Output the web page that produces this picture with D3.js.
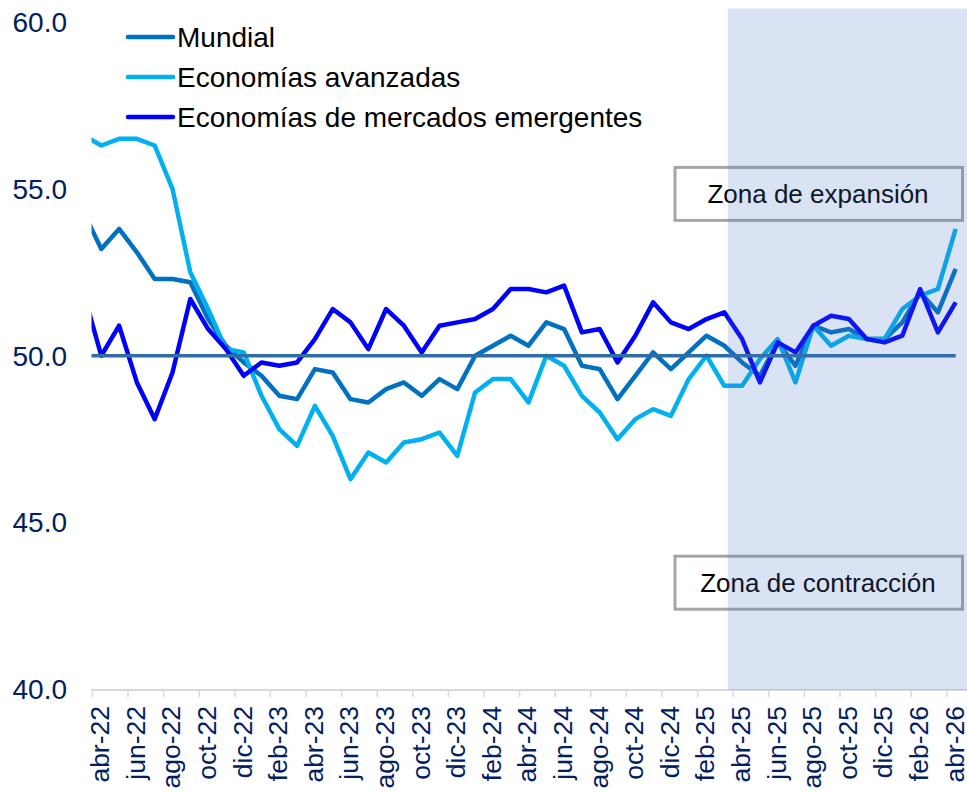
<!DOCTYPE html>
<html><head><meta charset="utf-8">
<script src="https://cdn.jsdelivr.net/npm/d3@7"></script>
<style>
html,body{margin:0;padding:0;background:#fff;}
svg{display:block;font-family:"Liberation Sans",Arial,sans-serif;}
</style></head>
<body>
<svg id="chart" width="967" height="792"></svg>
<script>
// ---- data ----
const months = ["mar-22","abr-22","may-22","jun-22","jul-22","ago-22","sep-22","oct-22","nov-22","dic-22",
"ene-23","feb-23","mar-23","abr-23","may-23","jun-23","jul-23","ago-23","sep-23","oct-23","nov-23","dic-23",
"ene-24","feb-24","mar-24","abr-24","may-24","jun-24","jul-24","ago-24","sep-24","oct-24","nov-24","dic-24",
"ene-25","feb-25","mar-25","abr-25","may-25","jun-25","jul-25","ago-25","sep-25","oct-25","nov-25","dic-25",
"ene-26","feb-26","mar-26","abr-26"];
const mundial = [54.3,53.2,53.8,53.1,52.3,52.3,52.2,51.1,50.3,49.8,
49.4,48.8,48.7,49.6,49.5,48.7,48.6,49.0,49.2,48.8,49.3,49.0,
50.0,50.3,50.6,50.3,51.0,50.8,49.7,49.6,48.7,49.4,50.1,49.6,
50.1,50.6,50.3,49.8,49.4,50.4,49.7,50.9,50.7,50.8,50.5,50.5,
51.0,51.9,51.3,52.6];
const avanzadas = [56.6,56.3,56.5,56.5,56.3,55.0,52.5,51.4,50.2,50.1,
48.8,47.8,47.3,48.5,47.6,46.3,47.1,46.8,47.4,47.5,47.7,47.0,
48.9,49.3,49.3,48.6,50.0,49.7,48.8,48.3,47.5,48.1,48.4,48.2,
49.3,50.0,49.1,49.1,49.9,50.5,49.2,50.9,50.3,50.6,50.5,50.5,
51.4,51.8,52.0,53.8];
const emergentes = [51.9,50.0,50.9,49.2,48.1,49.5,51.7,50.8,50.2,49.4,
49.8,49.7,49.8,50.5,51.4,51.0,50.2,51.4,50.9,50.1,50.9,51.0,
51.1,51.4,52.0,52.0,51.9,52.1,50.7,50.8,49.8,50.6,51.6,51.0,
50.8,51.1,51.3,50.5,49.2,50.4,50.1,50.9,51.2,51.1,50.5,50.4,
50.6,52.0,50.7,51.6];
const threshold = months.map(() => 50);
const seriesNames = ["Mundial","Economías avanzadas","Economías de mercados emergentes"];
const seriesColors = ["#0070C0","#00B0F0","#0000FF"];
const yTicks = [40,45,50,55,60];
const tickMonths = months.filter((m,i) => i % 2 === 1);
const shadeStart = "abr-25";
const zoneLabels = ["Zona de expansión","Zona de contracción"];
const zoneValues = [54.85, 43.2];

// ---- layout ----
const svg = d3.select("#chart");
const plotLeft = 91.5, plotRight = 967, plotTop = 8, plotBottom = 690;
const x = d3.scalePoint().domain(months).range([83.5, 955.7]);
const step = x.step();
const y = d3.scaleLinear().domain([40,60]).range([689.5, 22]);

svg.append("defs").append("clipPath").attr("id","plotClip")
  .append("rect").attr("x",plotLeft).attr("y",0).attr("width",plotRight-plotLeft).attr("height",plotBottom);

// x axis line and ticks
svg.append("line").attr("x1",plotLeft).attr("x2",plotRight).attr("y1",plotBottom).attr("y2",plotBottom)
  .attr("stroke","#D9D9D9").attr("stroke-width",2);
svg.append("g").selectAll("line").data(tickMonths).join("line")
  .attr("x1",d=>x(d)-step/2).attr("x2",d=>x(d)-step/2)
  .attr("y1",plotBottom).attr("y2",plotBottom+7)
  .attr("stroke","#D9D9D9").attr("stroke-width",1.5);
svg.append("g").selectAll("text").data(tickMonths).join("text")
  .attr("transform",d=>`translate(${x(d)},706) rotate(-90)`)
  .attr("text-anchor","end").attr("dy","0.3em")
  .attr("font-size",26.5).attr("fill","#002060").text(d=>d);

// y labels
svg.append("g").selectAll("text").data(yTicks).join("text")
  .attr("x",67).attr("y",d=>y(d)).attr("dy","0.35em").attr("text-anchor","end")
  .attr("font-size",28).attr("fill","#002060").text(d=>d3.format(".1f")(d));

// zone boxes
const boxG = svg.append("g");
zoneLabels.forEach((t,i) => {
  const cy = y(zoneValues[i]);
  boxG.append("rect").attr("x",675).attr("y",cy-26.5).attr("width",287.5).attr("height",53)
    .attr("fill","#fff").attr("stroke","#A6A6A6").attr("stroke-width",3);
  boxG.append("text").attr("x",818).attr("y",cy+9.5).attr("text-anchor","middle")
    .attr("font-size",26).attr("fill","#000").text(t);
});

// lines
const lineGen = d3.line().x((d,i)=>x(months[i])).y(d=>y(d));
const lg = svg.append("g").attr("clip-path","url(#plotClip)");
[mundial, avanzadas, emergentes].forEach((s,i) => {
  lg.append("path").datum(s).attr("d",lineGen).attr("fill","none")
    .attr("stroke",seriesColors[i]).attr("stroke-width",4.5).attr("stroke-linejoin","round");
});
lg.append("path").datum(threshold).attr("d",lineGen).attr("fill","none")
  .attr("stroke","#2E6DA6").attr("stroke-width",3.5);

// shaded forecast area
svg.append("rect").attr("x",x(shadeStart)-step*0.8).attr("y",y(60.4))
  .attr("width",plotRight-(x(shadeStart)-step*0.8)).attr("height",plotBottom-y(60.4))
  .attr("fill","#4472C4").attr("fill-opacity",0.2);

// legend
const leg = svg.append("g");
seriesNames.forEach((n,i) => {
  const ly = 37 + i*40;
  leg.append("line").attr("x1",128).attr("x2",173).attr("y1",ly).attr("y2",ly)
    .attr("stroke",seriesColors[i]).attr("stroke-width",4.5).attr("stroke-linecap","round");
  leg.append("text").attr("x",177).attr("y",ly).attr("dy","0.35em")
    .attr("font-size",28).attr("fill","#000").text(n);
});
</script>
</body></html>
